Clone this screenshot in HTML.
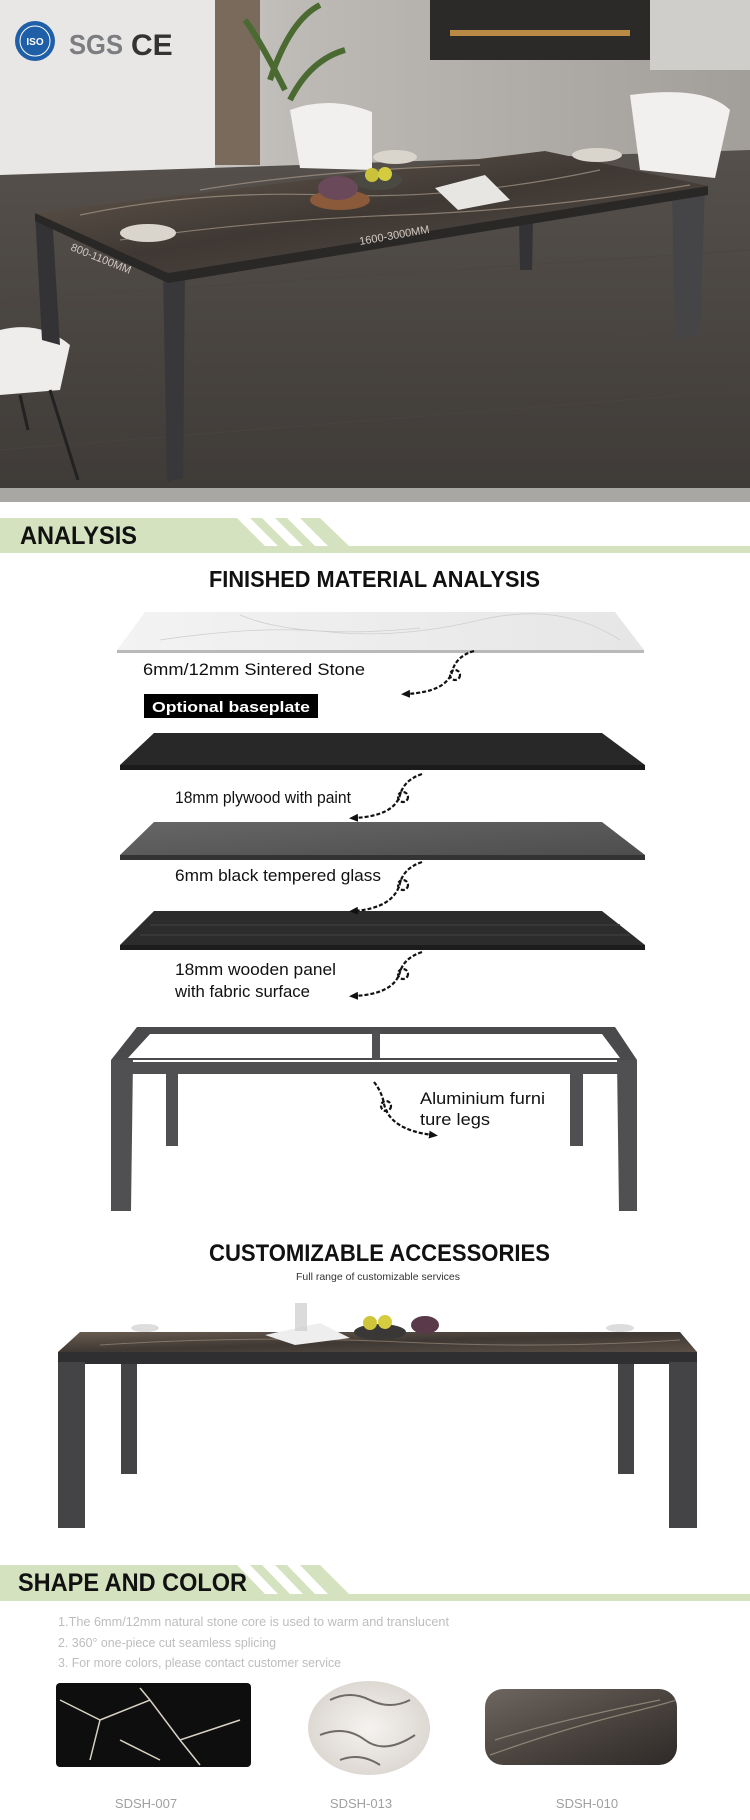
<!DOCTYPE html>
<html><head><meta charset="utf-8"><style>
html,body{margin:0;padding:0;background:#fff;}
svg{display:block;}
text{font-family:"Liberation Sans",sans-serif;}
.nar{font-family:"Liberation Sans Narrow","Liberation Sans",sans-serif;font-weight:bold;}
</style></head><body>
<svg width="750" height="1820" viewBox="0 0 750 1820" xmlns="http://www.w3.org/2000/svg">
<defs>
<linearGradient id="floor" x1="0" y1="0" x2="0" y2="1"><stop offset="0" stop-color="#55504b"/><stop offset="1" stop-color="#3e3a37"/></linearGradient>
<linearGradient id="wall" x1="0" y1="0" x2="1" y2="0"><stop offset="0" stop-color="#e4e3e1"/><stop offset="0.4" stop-color="#bdbab6"/><stop offset="1" stop-color="#a29e99"/></linearGradient>
<linearGradient id="marb" x1="0" y1="0" x2="1" y2="1"><stop offset="0" stop-color="#6a5d52"/><stop offset="0.5" stop-color="#3f3833"/><stop offset="1" stop-color="#5b5047"/></linearGradient>
<linearGradient id="white" x1="0" y1="0" x2="1" y2="0"><stop offset="0" stop-color="#f3f3f3"/><stop offset="1" stop-color="#e6e6e6"/></linearGradient>
<linearGradient id="glass" x1="0" y1="0" x2="1" y2="1"><stop offset="0" stop-color="#666"/><stop offset="1" stop-color="#4c4c4c"/></linearGradient>
<linearGradient id="sw3" x1="0" y1="0" x2="1" y2="1"><stop offset="0" stop-color="#6e6660"/><stop offset="0.5" stop-color="#4c4540"/><stop offset="1" stop-color="#2e2a28"/></linearGradient>
<radialGradient id="ov" cx="0.5" cy="0.5" r="0.5"><stop offset="0" stop-color="#f5f3f0"/><stop offset="1" stop-color="#ddd8d2"/></radialGradient>
<marker id="ah" markerUnits="userSpaceOnUse" markerWidth="9" markerHeight="8" refX="4" refY="4" orient="auto"><path d="M0,0 L9,4 L0,8 z" fill="#111"/></marker>
</defs>

<!-- HERO -->
<rect x="0" y="0" width="750" height="502" fill="url(#floor)"/>
<rect x="0" y="0" width="750" height="175" fill="url(#wall)"/>
<rect x="0" y="0" width="215" height="190" fill="#e8e7e5"/>
<rect x="215" y="0" width="45" height="165" fill="#7a6a5c"/>
<rect x="430" y="0" width="220" height="60" fill="#2b2a28"/>
<rect x="450" y="30" width="180" height="6" fill="#b98a46"/>
<rect x="650" y="0" width="100" height="70" fill="#d0ceca"/>
<path d="M0,175 L750,150 L750,502 L0,502z" fill="url(#floor)"/>
<g stroke="#4a4542" stroke-width="1" opacity="0.7"><line x1="0" y1="300" x2="750" y2="250"/><line x1="0" y1="380" x2="750" y2="320"/><line x1="0" y1="450" x2="750" y2="390"/></g>
<rect x="0" y="488" width="750" height="14" fill="#a9a7a4"/>
<path d="M290,110 Q330,95 372,112 L372,170 L300,168z" fill="#f1f0ee"/>
<path d="M630,95 Q705,85 730,110 L715,178 L640,170z" fill="#f1f0ee"/>
<path d="M0,330 Q40,320 70,345 L60,390 L0,395z" fill="#eeedeb"/>
<line x1="50" y1="390" x2="78" y2="480" stroke="#222" stroke-width="3"/>
<line x1="20" y1="395" x2="28" y2="430" stroke="#222" stroke-width="3"/>
<path d="M270,80 Q290,20 320,5 M285,90 Q260,40 245,20 M290,100 Q310,60 345,50" stroke="#4a6a32" stroke-width="6" fill="none"/>
<polygon points="35,213 52,215 60,345 42,340" fill="#333335"/>
<polygon points="163,273 185,270 183,478 167,482" fill="#38383a"/>
<polygon points="672,188 705,186 700,335 675,340" fill="#454547"/>
<polygon points="518,170 534,168 532,270 520,270" fill="#333335"/>
<polygon points="35,213 168,273 708,186 708,195 168,283 35,221" fill="#2a2827"/>
<polygon points="35,213 545,151 708,186 168,273" fill="url(#marb)"/>
<g stroke="#a8998a" stroke-width="1.2" fill="none" opacity="0.7"><path d="M80,215 Q200,190 330,195 T600,170"/><path d="M120,240 Q260,220 400,215 T690,185"/><path d="M200,190 Q320,170 480,165"/></g>
<ellipse cx="148" cy="233" rx="28" ry="9" fill="#d9d4cc"/>
<ellipse cx="395" cy="157" rx="22" ry="7" fill="#d9d4cc"/>
<ellipse cx="597" cy="155" rx="25" ry="7" fill="#d9d4cc"/>
<ellipse cx="340" cy="200" rx="30" ry="10" fill="#8a5a3a"/>
<ellipse cx="338" cy="188" rx="20" ry="12" fill="#6a4a5a"/>
<ellipse cx="378" cy="180" rx="24" ry="10" fill="#4b4a42"/>
<circle cx="372" cy="175" r="7" fill="#c9c23a"/><circle cx="385" cy="174" r="7" fill="#d4cb40"/>
<polygon points="435,188 485,175 510,200 458,210" fill="#e8e6e3"/>
<text x="70" y="250" font-size="11" fill="#d0c8c0" transform="rotate(22 70 250)">800-1100MM</text>
<text x="360" y="245" font-size="11" fill="#d0c8c0" transform="rotate(-10 360 245)">1600-3000MM</text>
<circle cx="35" cy="41" r="20" fill="#1f5fa8"/><circle cx="35" cy="41" r="15" fill="none" stroke="#fff" stroke-width="1"/>
<text x="35" y="45" font-size="10" font-weight="bold" fill="#fff" text-anchor="middle">ISO</text>
<text x="69" y="54" font-size="28" font-weight="bold" fill="#7c7d80" class="nar" textLength="54" lengthAdjust="spacingAndGlyphs">SGS</text>
<text x="131" y="55" font-size="30" font-weight="bold" fill="#333">CE</text>

<!-- ANALYSIS banner -->
<polygon points="0,518 320,518 349,546 0,546" fill="#d4e2bf"/>
<rect x="0" y="546" width="750" height="7" fill="#d4e2bf"/>
<g fill="#fff"><polygon points="237,518 250,518 278,546 265,546"/><polygon points="262,518 275,518 303,546 290,546"/><polygon points="287,518 300,518 328,546 315,546"/></g>
<text x="20" y="544" font-size="25" class="nar" fill="#111" textLength="117" lengthAdjust="spacingAndGlyphs">ANALYSIS</text>

<text x="209" y="587" font-size="23" class="nar" fill="#111" textLength="331" lengthAdjust="spacingAndGlyphs">FINISHED MATERIAL  ANALYSIS</text>

<polygon points="145,612 615,612 644,650 117,650" fill="url(#white)"/>
<rect x="117" y="650" width="527" height="3" fill="#b9b9b9"/>
<g stroke="#cfcfcf" fill="none" stroke-width="0.8"><path d="M160,640 Q260,625 330,632 T480,620 T620,640"/><path d="M240,615 Q300,640 420,628"/></g>
<text x="143" y="675" font-size="16.5" fill="#111" textLength="222" lengthAdjust="spacingAndGlyphs">6mm/12mm Sintered Stone</text>
<rect x="144" y="694" width="174" height="24" fill="#000"/>
<text x="152" y="712" font-size="15" font-weight="bold" fill="#fff" textLength="158" lengthAdjust="spacingAndGlyphs">Optional baseplate</text>

<polygon points="154,733 602,733 645,765 645,770 120,770 120,765" fill="#282828"/>
<rect x="120" y="765" width="525" height="5" fill="#1a1a1a"/>
<text x="175" y="803" font-size="16.5" fill="#111" textLength="176" lengthAdjust="spacingAndGlyphs">18mm plywood with paint</text>
<polygon points="154,822 602,822 645,855 645,860 120,860 120,855" fill="url(#glass)"/>
<rect x="120" y="855" width="525" height="5" fill="#333"/>
<text x="175" y="881" font-size="16.5" fill="#111" textLength="206" lengthAdjust="spacingAndGlyphs">6mm black tempered glass</text>
<polygon points="154,911 602,911 645,945 645,950 120,950 120,945" fill="#2c2c2c"/>
<g stroke="#3a3a3a" stroke-width="2" opacity="0.8"><line x1="150" y1="925" x2="620" y2="925"/><line x1="140" y1="935" x2="630" y2="935"/></g>
<rect x="120" y="945" width="525" height="5" fill="#1c1c1c"/>
<text x="175" y="975" font-size="16.5" fill="#111" textLength="161" lengthAdjust="spacingAndGlyphs">18mm wooden panel</text>
<text x="175" y="997" font-size="16.5" fill="#111" textLength="135" lengthAdjust="spacingAndGlyphs">with fabric surface</text>

<g fill="none" stroke="#111" stroke-width="2.2" stroke-dasharray="4,2">
<path d="M474,651 Q456,656 452,672 Q446,692 406,694" marker-end="url(#ah)"/>
<circle cx="455" cy="675" r="5"/>
<path d="M422,774 Q404,780 400,795 Q394,816 354,818" marker-end="url(#ah)"/>
<circle cx="403" cy="797" r="5"/>
<path d="M422,862 Q404,868 400,883 Q394,908 354,911" marker-end="url(#ah)"/>
<circle cx="403" cy="885" r="5"/>
<path d="M422,952 Q404,958 400,972 Q394,994 354,996" marker-end="url(#ah)"/>
<circle cx="403" cy="974" r="5"/>
<path d="M374,1082 Q382,1092 384,1104 Q390,1130 433,1135" marker-end="url(#ah)"/>
<circle cx="386" cy="1106" r="5"/>
</g>

<polygon points="137,1027 615,1027 637,1060 111,1060" fill="#4a4a4c"/>
<polygon points="150,1034 602,1034 620,1058 128,1058" fill="#fff"/>
<g fill="#505052">
<rect x="372" y="1030" width="8" height="30"/>
<rect x="130" y="1062" width="490" height="12"/>
<polygon points="111,1060 133,1060 131,1211 111,1211"/>
<polygon points="617,1060 637,1060 637,1211 619,1211"/>
<rect x="166" y="1074" width="12" height="72"/>
<rect x="570" y="1074" width="13" height="72"/>
</g>
<text x="420" y="1104" font-size="16.5" fill="#111" textLength="125" lengthAdjust="spacingAndGlyphs">Aluminium furni</text>
<text x="420" y="1125" font-size="16.5" fill="#111" textLength="70" lengthAdjust="spacingAndGlyphs">ture legs</text>

<text x="209" y="1261" font-size="24" class="nar" fill="#111" textLength="341" lengthAdjust="spacingAndGlyphs">CUSTOMIZABLE ACCESSORIES</text>
<text x="378" y="1280" font-size="10.5" fill="#333" text-anchor="middle">Full range of customizable services</text>
<polygon points="80,1332 680,1332 697,1352 58,1352" fill="url(#marb)"/>
<g stroke="#a59585" stroke-width="1" fill="none" opacity="0.6"><path d="M100,1345 Q250,1335 400,1342 T680,1340"/></g>
<rect x="58" y="1352" width="639" height="12" fill="#2f2f31"/>
<g fill="#444446">
<rect x="58" y="1362" width="27" height="166"/>
<rect x="669" y="1362" width="28" height="166"/>
<rect x="121" y="1364" width="16" height="110"/>
<rect x="618" y="1364" width="16" height="110"/>
</g>
<ellipse cx="145" cy="1328" rx="14" ry="4" fill="#ddd"/>
<ellipse cx="620" cy="1328" rx="14" ry="4" fill="#ddd"/>
<polygon points="265,1335 320,1323 350,1338 295,1345" fill="#eee"/>
<ellipse cx="380" cy="1332" rx="26" ry="8" fill="#3a3836"/>
<circle cx="370" cy="1323" r="7" fill="#cfc53a"/><circle cx="385" cy="1322" r="7" fill="#d5cc3f"/>
<ellipse cx="425" cy="1325" rx="14" ry="9" fill="#5a3a4a"/>
<rect x="295" y="1303" width="12" height="28" fill="#ccc" opacity="0.7"/>

<polygon points="0,1565 320,1565 349,1594 0,1594" fill="#d4e2bf"/>
<rect x="0" y="1594" width="750" height="7" fill="#d4e2bf"/>
<g fill="#fff"><polygon points="237,1565 250,1565 278,1594 265,1594"/><polygon points="262,1565 275,1565 303,1594 290,1594"/><polygon points="287,1565 300,1565 328,1594 315,1594"/></g>
<text x="18" y="1591" font-size="25" class="nar" fill="#111" textLength="229" lengthAdjust="spacingAndGlyphs">SHAPE AND COLOR</text>
<g font-size="12.5" fill="#bdbdbd">
<text x="58" y="1626" textLength="391" lengthAdjust="spacingAndGlyphs">1.The 6mm/12mm natural stone core is used to warm and translucent</text>
<text x="58" y="1647" textLength="218" lengthAdjust="spacingAndGlyphs">2. 360° one-piece cut seamless splicing</text>
<text x="58" y="1667" textLength="283" lengthAdjust="spacingAndGlyphs">3. For more colors, please contact customer service</text>
</g>
<rect x="56" y="1683" width="195" height="84" rx="4" fill="#0e0e0e"/>
<g stroke="#d8d2c4" stroke-width="1.5" fill="none"><path d="M60,1700 L100,1720 L90,1760 M100,1720 L150,1700 L180,1740 L240,1720 M150,1700 L140,1688 M180,1740 L200,1765 M120,1740 L160,1760"/></g>
<ellipse cx="369" cy="1728" rx="61" ry="47" fill="url(#ov)"/>
<g stroke="#6f6a66" stroke-width="2" fill="none"><path d="M330,1700 Q350,1690 370,1700 T410,1700 M320,1735 Q345,1725 365,1740 T415,1735 M340,1760 Q360,1752 380,1765"/></g>
<rect x="485" y="1689" width="192" height="76" rx="18" fill="url(#sw3)"/>
<g stroke="#a89c8c" stroke-width="1.2" fill="none" opacity="0.7"><path d="M490,1755 Q560,1730 620,1715 T675,1700 M495,1740 Q560,1720 660,1700"/></g>
<g font-size="13" fill="#a0a0a0" text-anchor="middle">
<text x="146" y="1808">SDSH-007</text>
<text x="361" y="1808">SDSH-013</text>
<text x="587" y="1808">SDSH-010</text>
</g>
</svg>
</body></html>
